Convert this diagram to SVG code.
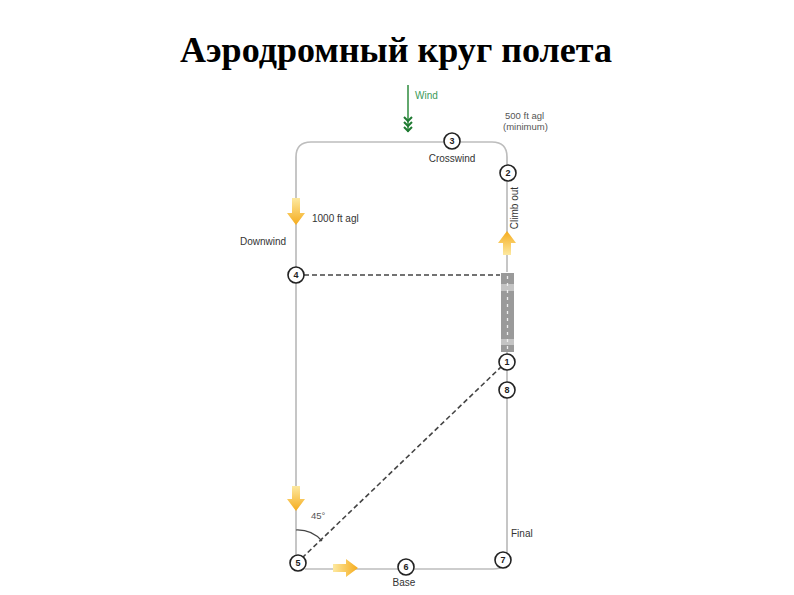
<svg xmlns="http://www.w3.org/2000/svg" width="794" height="595" viewBox="0 0 794 595">
<style>
.route{fill:none;stroke:#bdbdbd;stroke-width:1.7}
.dash{fill:none;stroke:#444;stroke-width:1.6;stroke-dasharray:5 3}
.node circle{fill:#fff;stroke:#222;stroke-width:1.6}
.node text{font-family:"Liberation Sans",Arial,sans-serif;font-size:9px;font-weight:bold;fill:#222;text-anchor:middle}
.lbl{font-family:"Liberation Sans",Arial,sans-serif;font-size:10px;fill:#333}
.gl{font-family:"Liberation Sans",Arial,sans-serif;font-size:9.5px;fill:#555}
</style>
<defs>
<linearGradient id="gd" x1="0" y1="0" x2="0" y2="1"><stop offset="0" stop-color="#fde9a0"/><stop offset="1" stop-color="#f5ab1c"/></linearGradient>
<linearGradient id="gu" x1="0" y1="1" x2="0" y2="0"><stop offset="0" stop-color="#fde9a0"/><stop offset="1" stop-color="#f5ab1c"/></linearGradient>
<linearGradient id="gr" x1="0" y1="0" x2="1" y2="0"><stop offset="0" stop-color="#fde9a0"/><stop offset="1" stop-color="#f5ab1c"/></linearGradient>
</defs>
<rect width="794" height="595" fill="#fff"/>
<text x="396" y="62" text-anchor="middle" font-family="'Liberation Serif','Times New Roman',serif" font-size="35" font-weight="bold" fill="#000" textLength="432" lengthAdjust="spacingAndGlyphs">Аэродромный круг полета</text>

<g id="connectors">
<path class="route" d="M296,563 V157 Q296,142 311,142 H492 Q507,142 507,157 V272"/>
<path class="route" d="M507,352 V555 Q507,569 493,569 H305"/>
<line class="dash" x1="304" y1="275" x2="500" y2="275"/>
<line class="dash" x1="302" y1="558" x2="502" y2="366"/>
<path d="M296,530 A33,33 0 0 1 322,541" fill="none" stroke="#444" stroke-width="1.2"/>
</g>

<g id="wind">
<line x1="408" y1="85" x2="408" y2="132" stroke="#2e8b3e" stroke-width="1.5"/>
<path d="M404,117 L408,121 L412,117 M404,122 L408,126 L412,122 M404,127 L408,131 L412,127" fill="none" stroke="#1f7a32" stroke-width="2"/>
<text x="415" y="99" font-family="'Liberation Sans',Arial,sans-serif" font-size="10" fill="#3a9a5a">Wind</text>
</g>

<g id="runway">
<rect x="501" y="273" width="13" height="79" fill="#9a9a9a"/>
<rect x="501" y="284" width="13" height="7" fill="#c4c4c4"/>
<rect x="501" y="339" width="13" height="6" fill="#c4c4c4"/>
<line x1="507.5" y1="276" x2="507.5" y2="350" stroke="#eee" stroke-width="1.3" stroke-dasharray="3 4"/>
</g>

<g id="arrows">
<path d="M292,198 H300 V213 H305 L296,225 L287,213 H292 Z" fill="url(#gd)"/>
<path d="M292,486 H300 V499 H305 L296,511 L287,499 H292 Z" fill="url(#gd)"/>
<path d="M503,255 H511 V243 H516 L507,231 L498,243 H503 Z" fill="url(#gu)"/>
<path d="M333,564 H346 V559 L358,568 L346,577 V572 H333 Z" fill="url(#gr)"/>
</g>

<g id="n1" class="node"><circle cx="507" cy="362" r="8"/><text x="507" y="365">1</text></g>
<g id="n2" class="node"><circle cx="508" cy="173" r="8"/><text x="508" y="176">2</text></g>
<g id="n3" class="node"><circle cx="452" cy="141" r="8"/><text x="452" y="144">3</text></g>
<g id="n4" class="node"><circle cx="296" cy="275" r="8"/><text x="296" y="278">4</text></g>
<g id="n5" class="node"><circle cx="298" cy="563" r="8"/><text x="298" y="566">5</text></g>
<g id="n6" class="node"><circle cx="406" cy="567" r="8"/><text x="406" y="570">6</text></g>
<g id="n7" class="node"><circle cx="503" cy="560" r="8"/><text x="503" y="563">7</text></g>
<g id="n8" class="node"><circle cx="507" cy="390" r="8"/><text x="507" y="393">8</text></g>

<g id="labels">
<text class="gl" x="505" y="119">500 ft agl</text>
<text class="gl" x="503" y="130">(minimum)</text>
<text class="lbl" x="452" y="162" text-anchor="middle">Crosswind</text>
<text class="lbl" x="518" y="208" text-anchor="middle" transform="rotate(-90 518 208)">Climb out</text>
<text class="lbl" x="312" y="222">1000 ft agl</text>
<text class="lbl" x="240" y="245">Downwind</text>
<text class="gl" x="311" y="519">45°</text>
<text class="lbl" x="511" y="537">Final</text>
<text class="lbl" x="404" y="586" text-anchor="middle">Base</text>
</g>
</svg>
